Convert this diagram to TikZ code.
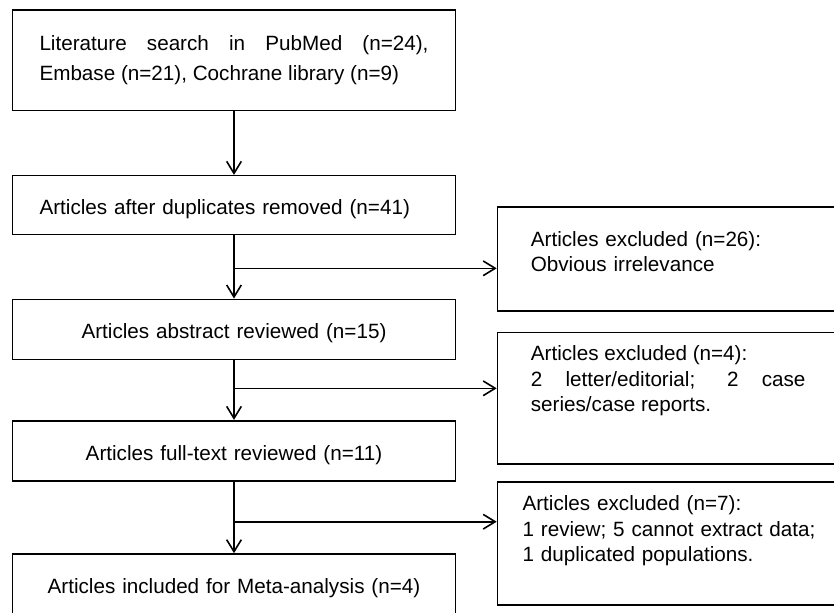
\documentclass[tikz,border=0pt]{standalone}
\usepackage{fontspec}
\setmainfont{Liberation Sans}
\usetikzlibrary{arrows.meta}
\hyphenpenalty=10000
\tolerance=9999

\begin{document}
\begin{tikzpicture}[x=0.75pt, y=-0.75pt,
    mainbox/.style={draw, line width=1.2pt, minimum width=332pt, minimum height=45pt,
        inner xsep=20pt, text width=291.75pt, align=center,
        font=\fontsize{15.5pt}{22.5pt}\selectfont},
    onebox/.style={mainbox, text height=14pt, text depth=0pt},
    exbox/.style={draw, line width=1.2pt, anchor=north west, inner ysep=0pt,
        inner xsep=25pt, text width=206pt, align=left,
        font=\fontsize{15.5pt}{19pt}\selectfont},
    link/.style={line width=1.2pt, -{Straight Barb[length=9pt, width=11pt]}}]
    \useasboundingbox (0,0) rectangle (834,612);
    % main column
    \node[mainbox, minimum height=75.5pt, align=justify] (search) at (234,60.3)
        {Literature search in PubMed (n=24), Embase (n=21), Cochrane library (n=9)};
    \node[onebox, minimum height=44pt, align=left] (dedup) at (234,205)
        {Articles after duplicates removed (n=41)};
    \node[onebox] (abstract) at (234,329.3) {Articles abstract reviewed (n=15)};
    \node[onebox] (fulltext) at (234,450.7) {Articles full-text reviewed (n=11)};
    \node[onebox] (included) at (234,584) {Articles included for Meta-analysis (n=4)};
    % exclusions
    \node[exbox, text height=29.8pt, text depth=48.2pt] (excl1) at (496.7,206)
        {Articles excluded (n=26):\\ Obvious irrelevance};
    \node[exbox, align=justify, text height=21.2pt, text depth=77.25pt] (excl2) at (496.7,331.7)
        {\parfillskip=0pt plus 1fil Articles excluded (n=4):\newline 2 letter/editorial; 2 case series/case reports.};
    \node[exbox, inner xsep=18.75pt, text width=250pt, text height=21.5pt, text depth=70.5pt] (excl3) at (496.7,481.3)
        {Articles excluded (n=7):\\ 1 review; 5 cannot extract data;\\ 1 duplicated populations.};
    \coordinate (fork1) at (234,268.3);
    \coordinate (fork2) at (234,388.3);
    \coordinate (fork3) at (234,521.7);
    \draw[link] (search) -- (dedup);
    \draw[link] (dedup) -- (abstract);
    \draw[link] (abstract) -- (fulltext);
    \draw[link] (fulltext) -- (included);
    \draw[link] (fork1) -- (fork1 -| excl1.west);
    \draw[link] (fork2) -- (fork2 -| excl2.west);
    \draw[link] (fork3) -- (fork3 -| excl3.west);
\end{tikzpicture}
\end{document}
